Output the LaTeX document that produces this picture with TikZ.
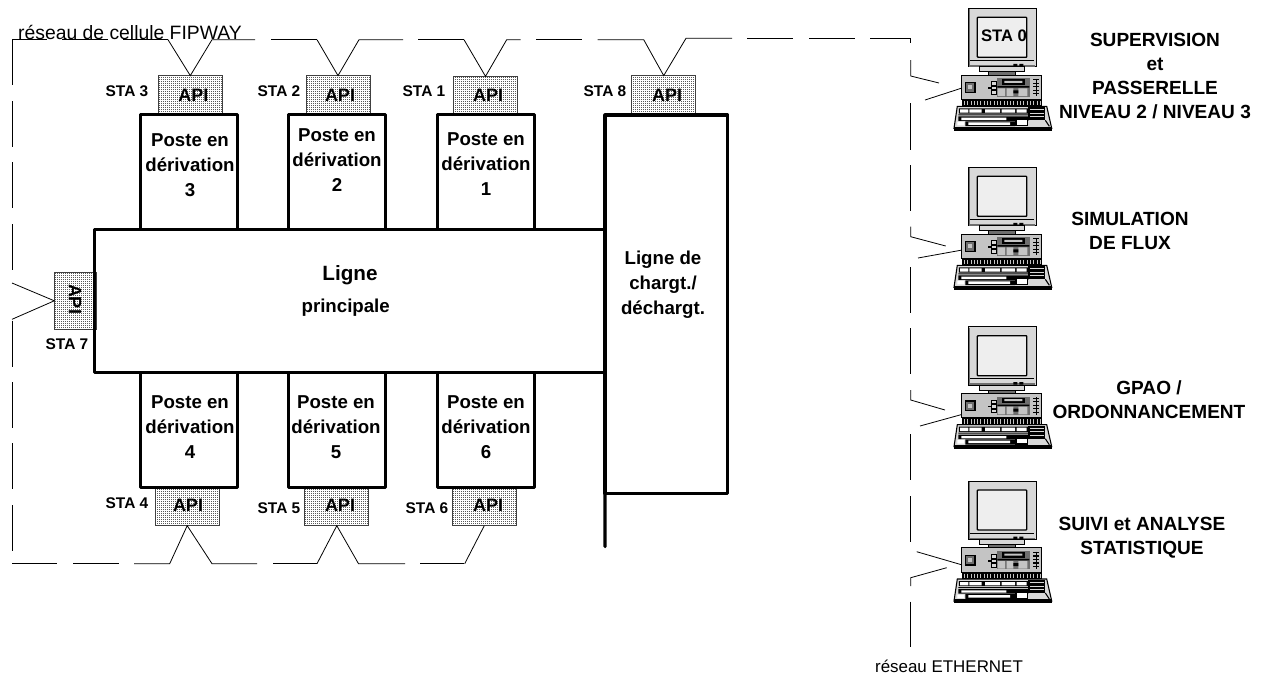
\documentclass[tikz,border=0pt]{standalone}
\usepackage{fontspec}
\setmainfont{Liberation Sans}
\usetikzlibrary{calc,patterns}
\definecolor{pcpanel}{RGB}{196,196,196}
\definecolor{pcframe}{RGB}{216,216,216}
\definecolor{pcscreen}{RGB}{238,238,238}
\definecolor{pcdark}{RGB}{110,110,110}
\pgfdeclarepatternformonly{apidots}{\pgfqpoint{-.5pt}{-.5pt}}{\pgfqpoint{1pt}{1pt}}{\pgfqpoint{1.5pt}{1.5pt}}{%
  \pgfpathcircle{\pgfqpoint{0pt}{0pt}}{.42pt}\pgfusepath{fill}}
\tikzset{
  net/.style={line width=0.6pt},
  heavy/.style={
    draw=black,
    line width=2.3pt,
    rectangle,
    outer sep=0pt,
    inner sep=0pt,
    line cap=round,
    line join=round
  },
  poste/.style={heavy, minimum width=72.75pt, minimum height=86pt},
  api/.style={
    draw=black!75,
    line width=0.6pt,
    pattern=apidots,
    outer sep=0pt,
    inner sep=0pt,
    minimum width=48pt,
    minimum height=28pt
  },
  api-text/.style={font=\bfseries\fontsize{13.5}{16}\selectfont},
  sta-text/.style={font=\bfseries\fontsize{11.6}{14}\selectfont},
  poste-text/.style={align=center, inner sep=0pt, font=\bfseries\fontsize{14}{18.9}\selectfont},
  role-text/.style={align=center, inner sep=0pt, font=\bfseries\fontsize{14.3}{18}\selectfont},
  net-text/.style={inner sep=0pt},
  pcbase/.style={
    draw=black,
    line width=0.6pt,
    fill=pcpanel,
    rectangle,
    outer sep=0pt,
    inner sep=0pt,
    minimum width=60pt,
    minimum height=18.2pt
  },
  pcline/.style={draw=black, line width=0.5pt}
}
\newcommand{\pcicon}[3]{%
  \node[pcbase] (pc#1) at ($(#2,#3)+(33.4,78.8)$) {};
  \begin{scope}[shift={(#2,#3)}]
    \draw[pcline, fill=pcframe] (0,0) rectangle (68,58.5);
    \draw[pcdark, line width=1.1pt] (1.2,0.8) -- (1.2,57.5) -- (66.8,57.5);
    \draw[pcline, line width=1pt, fill=pcscreen, rounded corners=0.6pt] (9,9) rectangle (58.5,49);
    \draw[pcline] (2,52) -- (66,52);
    \fill[black] (45,55.5) rectangle (49,58) (51,55.5) rectangle (55,58);
    \draw[pcline, fill=pcframe] (11,58.5) rectangle (56.5,63.5);
    \draw[pcline, fill=pcdark] (20,63.5) rectangle (47.5,66.7);
    \draw[pcline, line width=1pt, fill=pcdark] (-2.6,74.4) rectangle (6.7,84);
    \fill[pcpanel] (0,77) rectangle (4,81);
    \foreach \y in {73.5,78,82.5} {
      \draw[pcline, fill=pcframe] (23.4,\y) rectangle (27.7,\y+3.4);
    }
    \fill[black] (19.5,79) rectangle (23.4,80.5);
    \fill[pcdark] (28.4,70) rectangle (61.7,88.4);
    \fill[black] (33.4,71) rectangle (56.7,76.7);
    \fill[pcpanel] (36,72.5) rectangle (54,74.5) (29.4,80) rectangle (36.7,87.7) (38.4,80) rectangle (45,87.7) (50,80) rectangle (59,87.7);
    \fill[black] (29,77.8) rectangle (61,79.3) (45,82) rectangle (50,85);
    \fill[pcpanel] (63,70) rectangle (72.5,88.4);
    \foreach \y in {71.5,75,78.5,82,85.5} {
      \draw[black, line width=0.8pt] (65,\y) -- (71,\y);
    }
    \draw[black, line width=0.5pt] (68,70.5) -- (68,88);
    \fill[black] (-6.6,91) rectangle (73.4,97.9);
    \foreach \x in {-4,-0.7,...,72} {
      \draw[pcpanel, line width=0.5pt] (\x,92.5) -- (\x,97);
    }
    \draw[pcline, line width=0.8pt, fill=pcframe] (-11,98) -- (78.4,98) -- (83.4,120) -- (-14.3,120) -- cycle;
    \fill[black] (-9.5,100) rectangle (59.5,105.2) (-10,106) rectangle (60,107) (-10,108) rectangle (60,112.5) (-3,113) rectangle (46.7,117.8);
    \fill[white] (-8.3,101) rectangle (0,104.4) (1,101) rectangle (13.4,104.4) (16.7,101) rectangle (31.7,104.4) (33.4,101) rectangle (46.7,104.4) (48.4,101) rectangle (58.4,104.4);
    \fill[white] (-7,109.4) rectangle (38,111.7) (0,114) rectangle (41.7,116.5) (-11,113.5) rectangle (-4,117);
    \fill[black] (47,110) rectangle (60,118);
    \fill[white] (48.6,112) rectangle (58.4,116.7);
    \fill[black] (60,99) rectangle (76.7,112);
    \foreach \y in {101.5,105,108.5} {
      \draw[pcframe, line width=0.7pt] (61.5,\y) -- (75.5,\y);
    }
    \draw[black, line width=0.8pt] (77,112) -- (81,118);
    \fill[black] (-14.3,118.4) rectangle (83.4,122.4);
  \end{scope}
}
\begin{document}
\begin{tikzpicture}[x=0.75pt,y=-0.75pt]
  \useasboundingbox (0,0) rectangle (1262,675);
  \foreach \name/\x/\y/\tx/\ty in {3/190.3/94.3/193.3/95,2/338/94.3/340/95,1/485.5/95/488/95,8/663.7/94.3/667/95,4/187.2/507/188/505.7,5/336.8/507/340/505.7,6/484.3/507/488/505.7} {
    \node[api] (api\name) at (\x,\y) {};
    \node[api-text] (apilabel\name) at (\tx,\ty) {API};
  }
  \node[api, minimum width=31.8pt, minimum height=42.8pt] (api7) at (75.5,300.8) {};
  \node[api-text, rotate=-90] (apilabel7) at (75,299) {API};
  \foreach \name/\x in {3/189,2/337,1/485.7} {
    \node[poste] (poste\name) at (\x,172.2) {};
  }
  \foreach \name/\x in {4/189,5/337,6/485.7} {
    \node[poste] (poste\name) at (\x,430.2) {};
  }
  \node[heavy, minimum width=383pt, minimum height=107.6pt] (ligne) at (349.85,301) {};
  \node[heavy, minimum width=92pt, minimum height=283.9pt] (chargt) at (666.35,304.25) {};
  \coordinate (chargtend) at (605,546.7);
  \draw[heavy] (chargt.south west) -- (chargtend);
  \foreach \name/\x/\y/\num in {t3/190/165/3,t2/337/160/2,t1/486/164/1,t4/190/427/4,t5/336/427/5,t6/486/427/6} {
    \node[poste-text] (\name) at (\x,\y) {Poste en\\dérivation\\\num};
  }
  \node[poste-text, font=\bfseries\fontsize{15.5}{18}\selectfont] (lignetitle) at (350,275) {Ligne};
  \node[poste-text] (lignesub) at (345.7,307.7) {principale};
  \node[poste-text] (chargttitle) at (663,285) {Ligne de\\chargt./\\déchargt.};
  \foreach \name/\x/\y/\n in {lab3/127/90.7/3,lab2/279/90.7/2,lab1/424/90.7/1,lab8/605/90.7/8,lab7/67/344/7,lab4/127/502.7/4,lab5/279/507.7/5,lab6/427/508/6} {
    \node[sta-text] (\name) at (\x,\y) {STA \n};
  }
  \node[net-text, font=\fontsize{14.5}{16}\selectfont] (fipway) at (130,32) {réseau de cellule FIPWAY};
  \node[net-text, font=\fontsize{12.7}{14}\selectfont] (ethernet) at (949,666.5) {réseau ETHERNET};
  \foreach \xa/\xb in {12/46.7,62/108,123/168,271/317,418/464,536/582} {
    \draw[net] (\xa,39.7) -- (\xb,39.7);
  }
  \foreach \xa/\xb in {747/793,809/855} {
    \draw[net] (\xa,38.3) -- (\xb,38.3);
  }
  \foreach \xa/\xb in {12/57,73/119,273/317,420/464} {
    \draw[net] (\xa,563.7) -- (\xb,563.7);
  }
  \foreach \ya/\yb in {39.7/85,101/147,162/208,224/270,320.7/366.7,382/428,443/489,505/550.7} {
    \draw[net] (12,\ya) -- (12,\yb);
  }
  \foreach \ya/\yb in {103/150,165/211,267/313,328/374,434/480,496/541.7,601.7/647} {
    \draw[net] (910.7,\ya) -- (910.7,\yb);
  }
  \draw[net] (168,39.7) -- (api3.north) -- (212,39.7) -- (255,39.7);
  \draw[net] (317,39.7) -- (api2.north) -- (359,39.7) -- (403,39.7);
  \draw[net] (464,39.7) -- (api1.north) -- (506.7,39.7) -- (520.7,39.7);
  \draw[net] (597.7,39.7) -- (643.7,39.7) -- (api8.north) -- (686,38.3) -- (732,38.3);
  \draw[net] (134,563.7) -- (169.7,563.7) -- (api4.south) -- (212,563.7) -- (257,563.7);
  \draw[net] (317,563.7) -- (api5.south) -- (358.5,563.7) -- (405,563.7);
  \draw[net] (464.7,563.7) -- (api6.south);
  \draw[net] (12,283) -- (api7.west) -- (12,319.3);
  \draw[net] (870,38.3) -- (910.7,38.3) -- (910.7,43);
  \foreach \n/\x/\y in {0/968.3/8.3,1/968.3/167.3,2/968.3/326.7,3/968.3/481} {
    \pcicon{\n}{\x}{\y}
  }
  \draw[net] (910.7,60) -- (910.7,76) -- (939,83);
  \draw[net] (925,100) -- ($(pc0.west)+(0,1)$);
  \draw[net] (910.7,226.7) -- (910.7,236.7) -- (945.7,246);
  \draw[net] (918,258) -- ($(pc1.west)+(0,4)$);
  \draw[net] (910.7,390) -- (910.7,400) -- (945,410);
  \draw[net] (920,426) -- ($(pc2.west)+(0,9)$);
  \draw[net] (916.7,551.7) -- ($(pc3.west)+(0,5)$);
  \draw[net] (946.7,567.7) -- (910.7,577.7) -- (910.7,586);
  \node[api-text, font=\bfseries\fontsize{12.5}{16}\selectfont] (sta0) at (1004,35.5) {STA 0};
  \node[role-text] (role0) at (1155,76.3) {SUPERVISION\\et\\PASSERELLE\\NIVEAU 2 / NIVEAU 3};
  \node[role-text] (role1) at (1130,231) {SIMULATION\\DE FLUX};
  \node[role-text] (role2) at (1149,400) {GPAO /\\ORDONNANCEMENT};
  \node[role-text] (role3) at (1142,538) {SUIVI et ANALYSE\\STATISTIQUE};
\end{tikzpicture}
\end{document}
